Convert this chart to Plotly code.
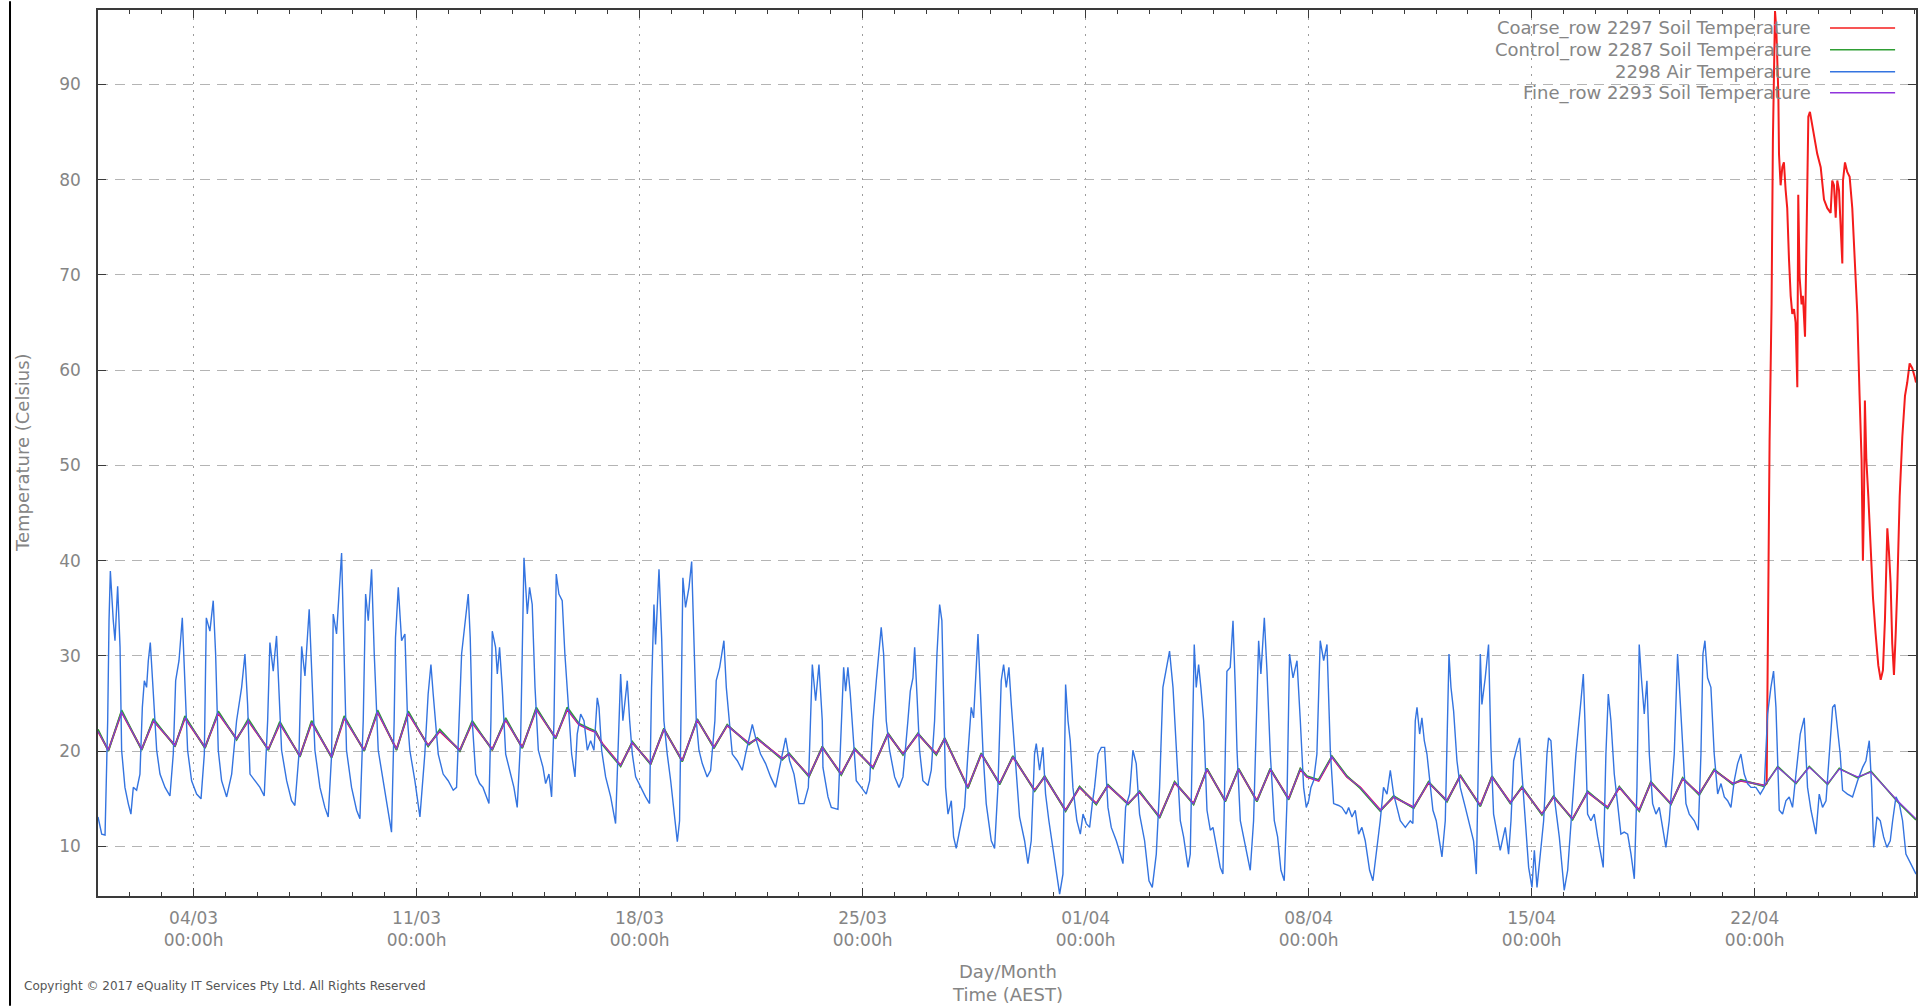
import pandas as pd
import plotly.graph_objects as go

START = pd.Timestamp("2017-03-01 00:00")

# Soil sensors: turning points of the daily cycle, hours since 01/03 00:00
soil_hours = [
    0, 7.8, 17.8, 32.9, 41.7, 58.0, 65.5, 80.6, 90.6, 104.4,
    113.2, 128.3, 137.0, 152.1, 160.9, 176.0, 185.5, 200.5, 210.6, 224.9,
    233.7, 248.7, 257.5, 272.6, 281.9, 297.0, 307.1, 319.6, 330.2, 344.7,
    353.5, 362.3, 369.8, 374.9, 379.9, 393.7, 402.5, 416.3, 426.3, 440.1,
    451.4, 464.0, 474.0, 490.4, 496.6, 515.5, 520.5, 535.6, 545.6, 559.9,
    570.0, 583.8, 595.1, 606.4, 617.7, 631.5, 637.8, 655.3, 665.4, 679.2,
    689.2, 705.6, 713.1, 728.9, 739.4, 752.0, 760.8, 775.9, 784.6, 799.7,
    811.0, 825.3, 835.4, 849.2, 859.2, 873.0, 883.1, 896.9, 905.7, 910.7,
    919.5, 929.5, 940.8, 950.9, 966.0, 976.0, 991.1, 1002.3, 1016.2, 1026.2,
    1041.3, 1050.1, 1063.9, 1072.7, 1087.7, 1096.5, 1110.8, 1122.1, 1137.2, 1146.0,
    1161.0, 1169.8, 1184.9, 1193.7, 1206.2, 1217.5, 1231.4, 1237.6, 1255.2, 1265.3,
    1279.1, 1289.1, 1302.9, 1311.7, 1325.5, 1335.6, 1355.6, 1369.5,
]

fine_soil = [
    22.1, 20.1, 24.1, 20.2, 23.2, 20.6, 23.5, 20.4, 24.0, 21.3,
    23.2, 20.2, 22.9, 19.5, 23.0, 19.4, 23.5, 20.1, 24.1, 20.2,
    24.0, 20.6, 22.1, 20.1, 23.0, 20.2, 23.3, 20.4, 24.4, 21.4,
    24.4, 22.8, 22.3, 22.0, 20.8, 18.5, 20.9, 18.7, 22.3, 19.0,
    23.3, 20.4, 22.7, 20.8, 21.3, 19.2, 19.7, 17.4, 20.4, 17.6,
    20.2, 18.3, 21.8, 19.7, 21.8, 19.7, 21.3, 16.2, 19.7, 16.6,
    19.4, 15.9, 17.3, 13.8, 16.2, 14.5, 16.4, 14.5, 15.7, 13.1,
    16.7, 14.5, 18.1, 14.8, 18.1, 14.8, 18.1, 15.0, 18.1, 17.3,
    16.9, 19.4, 17.3, 16.2, 13.8, 15.2, 14.1, 16.7, 14.8, 17.4,
    14.3, 17.3, 14.6, 16.2, 13.4, 15.2, 12.9, 15.7, 14.1, 16.2,
    13.8, 16.7, 14.5, 17.1, 15.5, 18.0, 16.6, 16.9, 16.4, 18.3,
    16.7, 18.3, 16.6, 18.1, 17.3, 17.8, 14.8, 12.9,
]

control_soil = [
    22.3, 20.0, 24.3, 20.1, 23.4, 20.5, 23.7, 20.3, 24.2, 21.2,
    23.4, 20.1, 23.1, 19.4, 23.2, 19.3, 23.7, 20.0, 24.3, 20.1,
    24.2, 20.5, 22.3, 20.0, 23.2, 20.1, 23.5, 20.3, 24.6, 21.3,
    24.6, 22.9, 22.4, 22.1, 20.7, 18.4, 21.0, 18.6, 22.4, 18.9,
    23.4, 20.3, 22.8, 20.7, 21.4, 19.1, 19.8, 17.3, 20.5, 17.5,
    20.3, 18.2, 21.9, 19.6, 21.9, 19.6, 21.4, 16.1, 19.8, 16.5,
    19.5, 15.8, 17.4, 13.7, 16.3, 14.4, 16.5, 14.4, 15.8, 13.0,
    16.8, 14.4, 18.2, 14.7, 18.2, 14.7, 18.2, 14.9, 18.2, 17.4,
    17.0, 19.5, 17.4, 16.1, 13.7, 15.3, 14.0, 16.8, 14.7, 17.5,
    14.2, 17.4, 14.5, 16.3, 13.3, 15.3, 12.8, 15.8, 14.0, 16.3,
    13.7, 16.8, 14.4, 17.2, 15.4, 18.1, 16.5, 17.0, 16.3, 18.4,
    16.6, 18.4, 16.5, 18.2, 17.2, 17.9, 14.7, 12.8,
]

# Coarse row tracks the fine row until the sensor fault on 23/04
coarse_shared_points = 109
coarse_fault_hours = [
    1257.0, 1259.2, 1260.7, 1261.7, 1263.3, 1264.3, 1265.8, 1266.3, 1267.5, 1268.8,
    1270.0, 1271.3, 1272.5, 1273.8, 1275.1, 1276.3, 1277.6, 1278.8, 1280.1, 1280.8,
    1281.8, 1283.3, 1284.3, 1285.9, 1286.9, 1288.4, 1289.6, 1291.4, 1293.4, 1295.1,
    1297.7, 1300.2, 1302.7, 1305.2, 1306.4, 1307.7, 1309.0, 1310.2, 1311.5, 1312.7,
    1314.0, 1314.5, 1316.0, 1317.7, 1319.5, 1321.5, 1323.5, 1325.3, 1327.0, 1328.5,
    1329.5, 1330.3, 1331.0, 1332.1, 1333.6, 1335.3, 1337.1, 1339.1, 1341.1, 1342.9,
    1344.6, 1346.1, 1347.9, 1349.1, 1350.4, 1351.6, 1352.9, 1354.2, 1355.4, 1357.2,
    1359.2, 1361.2, 1362.9, 1364.7, 1366.7, 1368.7, 1369.5,
]
coarse_fault_vals = [
    16.6, 52.5, 66.9, 84.2, 97.7, 95.7, 89.0, 82.7, 79.4, 81.3,
    81.8, 78.9, 77.0, 71.7, 67.8, 65.9, 66.4, 65.0, 58.2, 78.4,
    69.8, 66.9, 67.8, 63.5, 74.6, 86.6, 87.1, 85.6, 84.2, 82.7,
    81.3, 77.9, 77.0, 76.5, 79.9, 79.4, 76.0, 79.9, 78.9, 75.5,
    71.2, 79.9, 81.8, 80.8, 80.3, 77.0, 71.7, 65.9, 57.3, 50.6,
    40.0, 45.8, 56.8, 50.6, 46.7, 41.0, 36.1, 32.3, 29.0, 27.5,
    28.5, 33.8, 43.4, 41.0, 37.6, 31.3, 28.0, 32.3, 37.1, 46.7,
    53.0, 57.3, 58.7, 60.7, 60.2, 59.2, 58.7,
]

# Air temperature, hours since 01/03 00:00
air_hours = [
    0, 2.8, 5.3, 7.3, 8.3, 9.3, 11.5, 12.8, 14.8, 16.6,
    17.8, 20.3, 22.8, 24.8, 26.6, 29.1, 31.6, 33.4, 34.9, 36.6,
    37.9, 39.4, 41.7, 44.2, 46.7, 50.5, 54.2, 56.7, 58.5, 61.0,
    63.5, 65.5, 67.5, 70.5, 74.3, 77.6, 80.1, 81.6, 84.3, 86.8,
    88.6, 90.6, 93.1, 96.9, 100.7, 104.4, 108.2, 110.7, 112.7, 114.5,
    118.2, 122.0, 125.2, 127.8, 129.5, 132.0, 134.5, 136.3, 138.3, 142.1,
    145.8, 148.3, 151.4, 153.4, 155.9, 159.1, 160.9, 163.4, 167.2, 170.9,
    173.4, 176.0, 177.2, 179.7, 183.5, 185.5, 187.2, 191.0, 194.8, 197.3,
    199.8, 201.6, 203.6, 206.1, 208.1, 211.1, 214.1, 218.1, 221.1, 223.1,
    224.1, 226.2, 228.7, 231.2, 233.2, 234.9, 238.7, 242.5, 246.2, 248.7,
    250.8, 252.5, 254.3, 256.3, 260.0, 263.8, 267.6, 270.1,
    273.9, 276.9, 278.9, 280.4, 281.9, 284.5, 287.5, 290.0, 292.5, 294.5,
    296.0, 297.0, 299.5, 300.8, 302.5, 304.5, 307.1, 310.8, 313.3, 315.8,
    318.4, 320.9, 323.4, 325.1, 327.1, 329.2, 331.7, 335.2, 337.2, 339.7,
    341.7, 343.5, 345.2, 347.2, 349.7, 351.7, 354.3, 356.8, 359.3, 361.0,
    363.6, 366.1, 368.6, 371.1, 373.6, 376.1, 377.4, 379.4, 382.4, 386.2,
    389.9, 391.9, 393.7, 395.4, 398.7, 400.5, 402.5, 405.0, 408.8, 412.5,
    415.5, 417.0, 418.8, 420.0, 422.6, 424.6, 426.3, 428.8, 431.4, 433.9,
    436.4, 438.1, 440.6, 442.6, 445.2, 447.2, 448.9, 450.7, 452.7, 455.2,
    458.9, 461.5, 464.7, 465.7, 468.3, 471.5, 473.3, 475.8, 477.8, 481.6,
    485.3, 487.8, 490.3, 492.9, 495.4, 499.1, 502.9, 506.7, 510.4, 514.2,
    518.0, 521.0, 524.3, 528.0, 531.8, 535.1, 538.1, 540.6, 543.1, 545.6,
    546.1, 549.9, 552.4, 557.4, 559.9, 561.7, 563.2, 564.9, 566.7, 568.7,
    571.2, 575.0, 578.7, 581.3, 583.8, 586.3, 588.3, 590.0, 591.8, 593.8,
    596.3, 600.1, 603.4, 606.4, 610.1, 611.9, 613.9, 615.2, 616.9, 618.9,
    621.4, 625.2, 627.7, 630.2, 632.0, 634.0, 635.7, 637.0, 638.5, 640.3,
    642.8, 644.5, 646.5, 649.1, 652.8, 655.3, 657.8, 659.6, 661.6, 662.9,
    664.6, 666.6, 669.1, 672.9, 675.4, 677.9, 680.4, 682.2, 684.2, 686.2,
    688.0, 690.5, 694.2, 698.0, 700.5, 703.0, 705.5, 706.8, 709.3, 711.8,
    713.8, 716.3, 719.4, 721.9, 724.4, 726.9, 728.9, 730.7, 732.4, 734.4,
    737.4, 740.0, 742.0, 744.5, 747.0, 749.0, 750.7, 753.3, 755.8, 758.3,
    760.8, 763.3, 767.1, 770.1, 772.1, 774.1, 777.1, 779.6, 782.1, 784.6,
    788.4, 791.7, 794.2, 797.2, 799.7, 802.2, 804.7, 807.2, 809.8, 812.3,
    815.3, 817.8, 821.1,
    822.8, 824.8, 825.8, 827.3, 829.1, 830.8, 832.9, 835.4, 837.9, 839.9,
    842.9, 845.4, 847.4, 849.2, 850.4, 852.9, 855.0, 856.7, 858.0, 860.5,
    863.0, 865.5, 868.0, 870.5, 873.0, 874.3, 876.0, 878.6, 880.6, 883.1,
    886.1, 888.6, 891.1, 893.6, 895.6, 897.6, 900.2, 903.2, 905.7, 908.2,
    910.2, 912.0, 913.7, 915.7, 918.2, 920.7, 923.3, 925.8, 928.3, 930.8,
    934.6, 937.1, 940.3, 942.1, 944.6, 947.1, 949.6, 952.1, 954.6, 957.9,
    960.4, 962.9, 965.9, 968.4, 971.0, 973.5, 976.0, 978.5, 981.0, 984.8,
    988.5, 990.5, 992.3, 993.6, 995.6, 997.3, 999.1, 1001.1, 1003.1, 1005.6,
    1008.1, 1010.6, 1012.4, 1014.9, 1016.7, 1017.7, 1019.2, 1021.2, 1023.7, 1026.2,
    1030.0, 1033.2, 1036.2, 1038.3, 1040.0, 1041.3, 1042.5, 1045.0, 1047.5, 1049.3,
    1051.3, 1053.8, 1056.3, 1060.1, 1062.6, 1064.4, 1066.4, 1068.9, 1070.9, 1072.7,
    1075.2, 1077.7, 1080.2, 1082.0, 1084.0, 1086.5, 1089.0, 1091.5, 1092.7,
    1094.5, 1097.0, 1100.8, 1104.5, 1107.1, 1109.6, 1113.3, 1117.1, 1118.9, 1120.1,
    1122.1, 1124.6, 1127.1, 1129.7, 1132.2, 1133.9, 1135.9, 1137.7, 1139.7, 1142.2,
    1144.7, 1147.2, 1149.7, 1152.3, 1154.8, 1157.3, 1159.3, 1161.0, 1162.8, 1164.8,
    1166.8, 1168.6, 1171.1, 1173.6, 1176.1, 1178.6, 1181.1, 1183.6, 1187.4, 1189.9,
    1191.2, 1193.7, 1196.2, 1198.7, 1202.5, 1205.5, 1207.5, 1209.0, 1210.5, 1212.5,
    1215.0, 1217.5, 1220.1, 1222.6, 1225.1, 1227.6, 1230.1, 1232.6, 1235.1, 1237.6,
    1240.1, 1242.6, 1245.2, 1248.9, 1252.2, 1255.2, 1257.7, 1260.2, 1262.2, 1264.0,
    1266.5, 1269.0, 1271.5, 1274.0, 1276.5, 1279.1, 1282.3, 1285.3, 1287.8, 1290.4,
    1294.1, 1296.6, 1299.1, 1301.7, 1304.2, 1306.7, 1308.4, 1310.4, 1312.4, 1314.2,
    1317.9, 1321.7, 1325.5, 1329.3, 1331.8, 1334.3, 1336.1, 1337.6, 1340.1, 1342.6,
    1345.1, 1347.6, 1350.1, 1351.9, 1354.4, 1356.9, 1359.4, 1361.9, 1364.4, 1367.0,
    1369.5,
]

air_temp = [
    13.1, 11.3, 11.2, 23.2, 33.7, 38.9, 33.7, 31.6, 37.3, 30.9,
    20.1, 16.2, 14.5, 13.4, 16.2, 15.9, 17.6, 24.6, 27.4, 26.7,
    29.5, 31.4, 26.0, 20.1, 17.6, 16.2, 15.3, 19.7, 27.4, 29.5,
    34.0, 26.7, 20.1, 16.9, 15.5, 15.0, 19.7, 34.0, 32.6, 35.8,
    30.2, 20.1, 16.9, 15.2, 17.6, 23.2, 26.7, 30.2, 24.9, 17.6,
    16.9, 16.2, 15.3, 23.2, 31.4, 28.4, 32.1, 26.7, 20.1, 16.9,
    14.8, 14.3, 19.7, 31.0, 27.9, 34.9, 28.4, 20.1, 16.2, 14.1,
    13.1, 19.7, 34.4, 32.3, 40.8, 30.2, 20.1, 16.2, 13.8, 12.9,
    23.2, 36.5, 33.7, 39.1, 30.2, 20.1, 17.6, 14.1, 11.5, 23.2,
    31.9, 37.2, 31.6, 32.3, 23.2, 20.1, 16.9, 13.1, 19.7, 26.0,
    29.1, 26.0, 23.2, 19.7, 17.6, 16.9, 15.9, 16.2,
    30.2, 33.7, 36.5, 31.9, 23.2, 17.6, 16.6, 16.2, 15.2, 14.5,
    23.2, 32.6, 30.9, 28.1, 30.9, 26.7, 19.7, 17.6, 16.2, 14.1,
    21.4, 40.3, 34.4, 37.2, 35.4, 26.7, 20.1, 18.3, 16.6, 17.6,
    15.2, 23.2, 38.6, 36.5, 35.8, 30.2, 24.9, 19.7, 17.3, 21.8,
    23.9, 23.2, 20.1, 21.1, 20.1, 25.6, 24.6, 20.1, 17.3, 15.2,
    12.4, 19.7, 28.1, 23.2, 27.4, 23.2, 19.7, 17.3, 16.2, 15.2,
    14.5, 26.7, 35.4, 31.2, 39.1, 31.9, 23.2, 19.7, 16.9, 13.4,
    10.5, 12.7, 38.2, 35.1, 37.2, 39.9, 31.9, 23.2, 20.1, 18.7,
    17.3, 18.0, 23.2, 27.4, 28.8, 31.6, 26.7, 23.2, 19.7, 19.0,
    18.0, 19.7, 21.1, 22.8, 21.4, 19.7, 18.7, 17.3, 16.2, 19.0,
    21.4, 19.0, 17.6, 14.5, 14.5, 16.2, 29.1, 25.3, 29.1, 23.2,
    18.3, 15.2, 14.1, 13.9, 23.2, 28.8, 26.3, 28.8, 26.0, 21.4,
    16.9, 16.2, 15.5, 16.9, 23.2, 27.4, 30.9, 33.0, 30.2, 23.2,
    20.1, 17.3, 16.2, 17.3, 23.2, 26.3, 27.7, 30.9, 26.0, 20.1,
    16.9, 16.4, 18.0, 23.2, 30.2, 35.4, 33.7, 26.7, 16.2, 13.4,
    14.8, 11.0, 9.8, 11.7, 14.1, 19.7, 24.6, 23.5, 29.5, 32.3,
    26.7, 20.1, 14.5, 10.6, 9.8, 16.2, 27.4, 29.1, 26.7, 28.8,
    24.9, 20.1, 13.1, 10.6, 8.2, 10.6, 19.7, 20.8, 18.0, 20.4,
    15.5, 12.7, 9.9, 7.5, 5.0, 7.1, 27.0, 23.2, 21.1, 16.2,
    12.7, 11.3, 13.4, 12.4, 12.0, 14.5, 16.2, 19.7, 20.4, 20.4,
    14.1, 12.0, 10.6, 9.2, 8.2, 14.1, 15.5, 20.1, 18.7, 13.4,
    10.6, 6.4, 5.7, 9.2, 16.2, 26.7, 28.8, 30.5, 26.7, 19.7,
    12.7, 11.0, 7.8,
    9.2, 26.7, 31.2, 26.7, 29.1, 26.7, 23.2, 13.8, 11.7, 12.0,
    9.9, 7.8, 7.1, 19.7, 28.4, 28.8, 33.7, 26.7, 20.1, 12.7,
    11.0, 9.2, 7.5, 12.7, 26.7, 31.6, 28.1, 34.0, 28.4, 19.7,
    12.7, 11.0, 7.5, 6.4, 14.5, 30.2, 27.7, 29.5, 23.2, 16.2,
    14.1, 14.8, 16.2, 16.9, 19.7, 31.6, 29.5, 31.2, 20.1, 14.5,
    14.3, 14.1, 13.4, 14.1, 13.1, 13.8, 11.3, 12.0, 10.6, 7.5,
    6.4, 9.2, 12.7, 16.2, 15.5, 18.0, 15.5, 14.1, 12.7, 12.0,
    12.7, 12.4, 23.2, 24.6, 21.8, 23.5, 21.1, 19.7, 16.9, 13.8,
    12.7, 10.6, 8.9, 12.7, 23.2, 30.2, 26.7, 24.2, 19.0, 16.2,
    14.1, 12.4, 10.6, 7.1, 19.7, 30.2, 24.9, 27.7, 31.2, 20.4,
    13.4, 11.3, 9.6, 12.0, 9.2, 12.7, 19.0, 20.4, 21.4, 17.6,
    12.7, 7.8, 5.7, 9.6, 5.7, 9.2, 12.7, 19.7, 21.4,
    21.1, 15.2, 11.0, 5.4, 7.5, 12.0, 19.7, 25.3, 28.1, 23.2,
    13.4, 12.7, 13.4, 11.0, 9.2, 7.8, 19.7, 26.0, 23.2, 17.6,
    14.5, 11.3, 11.5, 11.3, 9.2, 6.6, 16.2, 31.2, 27.4, 23.9,
    27.4, 19.7, 14.5, 13.4, 14.1, 12.0, 9.9, 12.7, 19.7, 30.2,
    26.7, 19.7, 14.5, 13.4, 12.7, 11.7, 19.7, 30.2, 31.6, 27.7,
    26.7, 19.7, 15.5, 16.6, 15.2, 14.8, 14.1, 16.9, 18.7, 19.7,
    17.6, 16.6, 16.2, 16.2, 15.5, 16.2, 23.9, 26.7, 28.4, 24.6,
    13.8, 13.4, 14.8, 15.2, 14.1, 17.6, 21.8, 23.5, 16.2, 13.8,
    11.3, 15.5, 14.1, 14.8, 19.7, 24.6, 24.9, 22.5, 19.7, 15.9,
    15.5, 15.2, 16.9, 18.3, 19.0, 21.1, 16.2, 9.9, 13.1, 12.7,
    11.0, 9.9, 10.6, 12.7, 15.2, 14.5, 12.7, 9.2, 8.5, 7.8,
    7.1,
]

week_ticks = ["2017-03-04", "2017-03-11", "2017-03-18", "2017-03-25",
              "2017-04-01", "2017-04-08", "2017-04-15", "2017-04-22"]
week_labels = ["04/03", "11/03", "18/03", "25/03", "01/04", "08/04", "15/04", "22/04"]
y_ticks = [10, 20, 30, 40, 50, 60, 70, 80, 90]

series_names = [
    "Coarse_row 2297 Soil Temperature",
    "Control_row 2287 Soil Temperature",
    "2298 Air Temperature",
    "Fine_row 2293 Soil Temperature",
]
series_colors = ["#f41c1c", "#2f9e34", "#3474e0", "#9034dc"]
series_widths = [2.0, 1.7, 1.4, 1.2]


def to_time(hours):
    return list(START + pd.to_timedelta(hours, unit="h"))


coarse_hours = soil_hours[:coarse_shared_points] + coarse_fault_hours
coarse_vals = fine_soil[:coarse_shared_points] + coarse_fault_vals

series_data = [
    (coarse_hours, coarse_vals),
    (soil_hours, control_soil),
    (air_hours, air_temp),
    (soil_hours, fine_soil),
]

fig = go.Figure()
for (hrs, vals), name, color, width in zip(series_data, series_names,
                                          series_colors, series_widths):
    n = min(len(hrs), len(vals))
    fig.add_trace(go.Scatter(
        x=to_time(hrs[:n]), y=vals[:n], mode="lines", name=name,
        line=dict(color=color, width=width), hoverinfo="x+y+name",
    ))

x_end = START + pd.Timedelta(hours=max(air_hours))
day_ticks = list(pd.date_range(START, x_end, freq="D"))

FONT = "DejaVu Sans, Verdana, sans-serif"
TEXT = "#858585"
AXIS = "#3a3a3a"

fig.update_layout(
    width=1926, height=1006,
    margin=dict(l=98, r=8, t=8, b=110),
    paper_bgcolor="white", plot_bgcolor="white",
    showlegend=False,
    font=dict(family=FONT, size=18, color=TEXT),
)

fig.update_xaxes(
    type="date", range=[START, x_end],
    showline=True, linecolor=AXIS, linewidth=1.5, mirror="allticks",
    ticks="inside", ticklen=8, tickwidth=1.2, tickcolor=AXIS,
    tickmode="array", tickvals=week_ticks,
    ticktext=[f"{d}<br>00:00h" for d in week_labels],
    tickfont=dict(family=FONT, size=17, color=TEXT),
    ticklabelstandoff=6,
    showgrid=True, gridcolor="#9c9c9c", gridwidth=1, griddash="2px,6px",
    minor=dict(tickmode="array", tickvals=day_ticks, ticks="inside",
               ticklen=4, tickwidth=1, tickcolor=AXIS, showgrid=False),
    zeroline=False,
)

fig.update_yaxes(
    range=[4.8, 97.8],
    showline=True, linecolor=AXIS, linewidth=1.5, mirror="allticks",
    ticks="inside", ticklen=8, tickwidth=1.2, tickcolor=AXIS,
    tickmode="array", tickvals=y_ticks,
    tickfont=dict(family=FONT, size=17, color=TEXT),
    ticklabelstandoff=12,
    showgrid=True, gridcolor="#b4b4b4", gridwidth=1, griddash="10px,7px",
    zeroline=False,
)

shapes = [
    # key box hides the grid behind the legend
    dict(type="rect", xref="paper", yref="paper", x0=0.7088, x1=0.999,
         y0=0.8964, y1=0.999, fillcolor="white", line=dict(width=0),
         layer="between"),
    # frame line on the left of the page
    dict(type="line", xref="paper", yref="paper", x0=-0.0484, x1=-0.0484,
         y0=-0.124, y1=1.01, line=dict(color="black", width=2)),
]

annotations = []
key_rows = [0.9798, 0.9550, 0.9302, 0.9066]
for name, color, ky in zip(series_names, series_colors, key_rows):
    annotations.append(dict(
        xref="paper", yref="paper", x=0.9434, y=ky, xanchor="right",
        yanchor="middle", text=name, showarrow=False,
        font=dict(family=FONT, size=18, color=TEXT),
    ))
    shapes.append(dict(
        type="line", xref="paper", yref="paper", x0=0.9527, x1=0.9885,
        y0=ky, y1=ky, line=dict(color=color, width=1.5),
    ))

annotations += [
    dict(xref="paper", yref="paper", x=-0.0418, y=0.5, textangle=-90,
         text="Temperature (Celsius)", showarrow=False,
         xanchor="center", yanchor="middle",
         font=dict(family=FONT, size=18, color=TEXT)),
    dict(xref="paper", yref="paper", x=0.5, y=-0.0985,
         text="Day/Month<br>Time (AEST)", showarrow=False,
         xanchor="center", yanchor="middle",
         font=dict(family=FONT, size=18, color=TEXT)),
    dict(xref="paper", yref="paper", x=-0.0418, y=-0.1015,
         text="Copyright © 2017 eQuality IT Services Pty Ltd. All Rights Reserved",
         showarrow=False, xanchor="left", yanchor="middle",
         font=dict(family=FONT, size=12, color="#555555")),
]

fig.update_layout(shapes=shapes, annotations=annotations)

fig.write_html("out.html")
